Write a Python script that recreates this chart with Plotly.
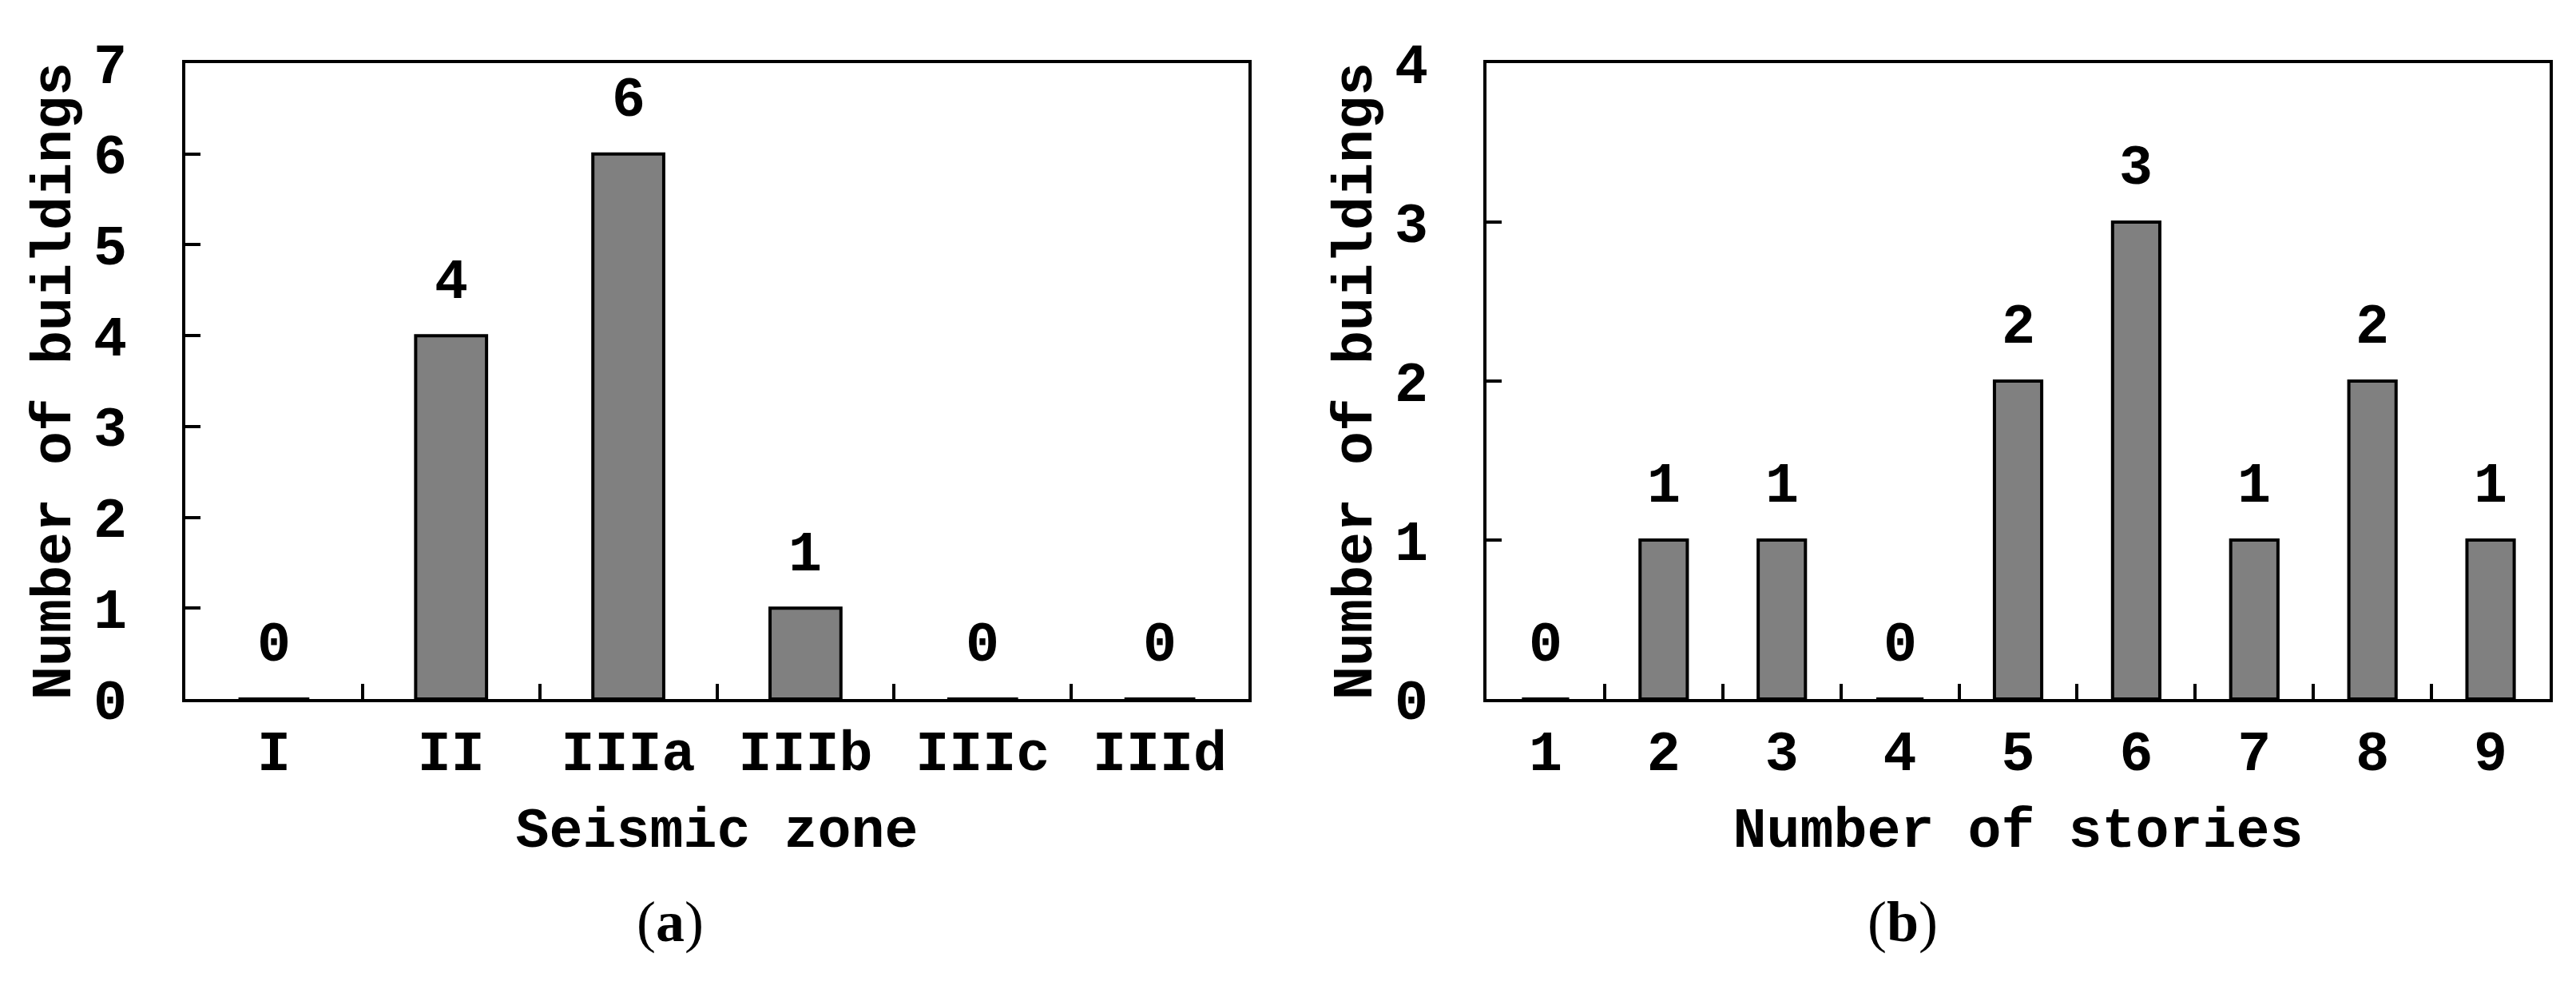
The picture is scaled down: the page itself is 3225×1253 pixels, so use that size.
import plotly.graph_objects as go

# ---- data ----
zones = ["I", "II", "IIIa", "IIIb", "IIIc", "IIId"]
zone_counts = [0, 4, 6, 1, 0, 0]
stories = ["1", "2", "3", "4", "5", "6", "7", "8", "9"]
story_counts = [0, 1, 1, 0, 2, 3, 1, 2, 1]
y_max_a = 7
y_max_b = 4

FONT = "Liberation Mono, Courier New, monospace"
FS = 70
W, H = 3225, 1253

fig = go.Figure()
bar_style = dict(marker=dict(color="#808080", line=dict(color="black", width=4)),
                 width=0.4, showlegend=False, hoverinfo="x+y")
fig.add_trace(go.Bar(x=zones, y=zone_counts, xaxis="x", yaxis="y", **bar_style))
fig.add_trace(go.Bar(x=stories, y=story_counts, xaxis="x2", yaxis="y2", **bar_style))

annotations = []
for xs, ys, xr, yr in [(zones, zone_counts, "x", "y"), (stories, story_counts, "x2", "y2")]:
    for i, v in enumerate(ys):
        annotations.append(dict(x=i, y=v, xref=xr, yref=yr, text=f"<b>{v}</b>",
                                showarrow=False, yanchor="middle", yshift=66,
                                font=dict(family=FONT, size=FS, color="black")))

serif = dict(family="Liberation Serif, Times New Roman, serif", size=72, color="black")
annotations.append(dict(x=787 / W, y=1 - 1188 / H, xref="paper", yref="paper",
                        text="(<b>a</b>)", showarrow=False, font=serif))
annotations.append(dict(x=2420 / W, y=1 - 1188 / H, xref="paper", yref="paper",
                        text="(<b>b</b>)", showarrow=False, font=serif))

tickfont = dict(family=FONT, size=FS, color="black", weight="bold")
titlefont = dict(family=FONT, size=FS, color="black", weight="bold")

def xax(domain, title, anchor):
    return dict(domain=domain, anchor=anchor, type="category", showline=True, linecolor="black",
                linewidth=4, mirror=True, ticks="inside", tickson="boundaries", ticklen=19,
                tickwidth=4, tickcolor="black", showgrid=False, zeroline=False, tickfont=tickfont,
                ticklabelstandoff=1, automargin=False,
                title=dict(text=title, font=titlefont, standoff=28))

def yax(domain, ymax, anchor, title):
    return dict(domain=domain, range=[0, ymax], dtick=1, anchor=anchor, showline=True,
                linecolor="black", linewidth=4, mirror=True, ticks="inside", ticklen=19,
                tickwidth=4, tickcolor="black", showgrid=False, zeroline=False,
                tickfont=tickfont, ticklabelstandoff=55, automargin=False,
                title=dict(text=title, font=titlefont, standoff=6))

ydom = [1 - 867 / H, 1 - 71 / H]
fig.update_layout(
    width=W, height=H,
    margin=dict(l=0, r=0, t=0, b=0),
    paper_bgcolor="white", plot_bgcolor="white",
    bargap=0.6,
    xaxis=xax([224 / W, 1555 / W], "Seismic zone", "y"),
    yaxis=yax(ydom, y_max_a, "x", "Number of buildings"),
    xaxis2=xax([1853 / W, 3184 / W], "Number of stories", "y2"),
    yaxis2=yax(ydom, y_max_b, "x2", "Number of buildings"),
    annotations=annotations,
)

fig.write_html("out.html")
